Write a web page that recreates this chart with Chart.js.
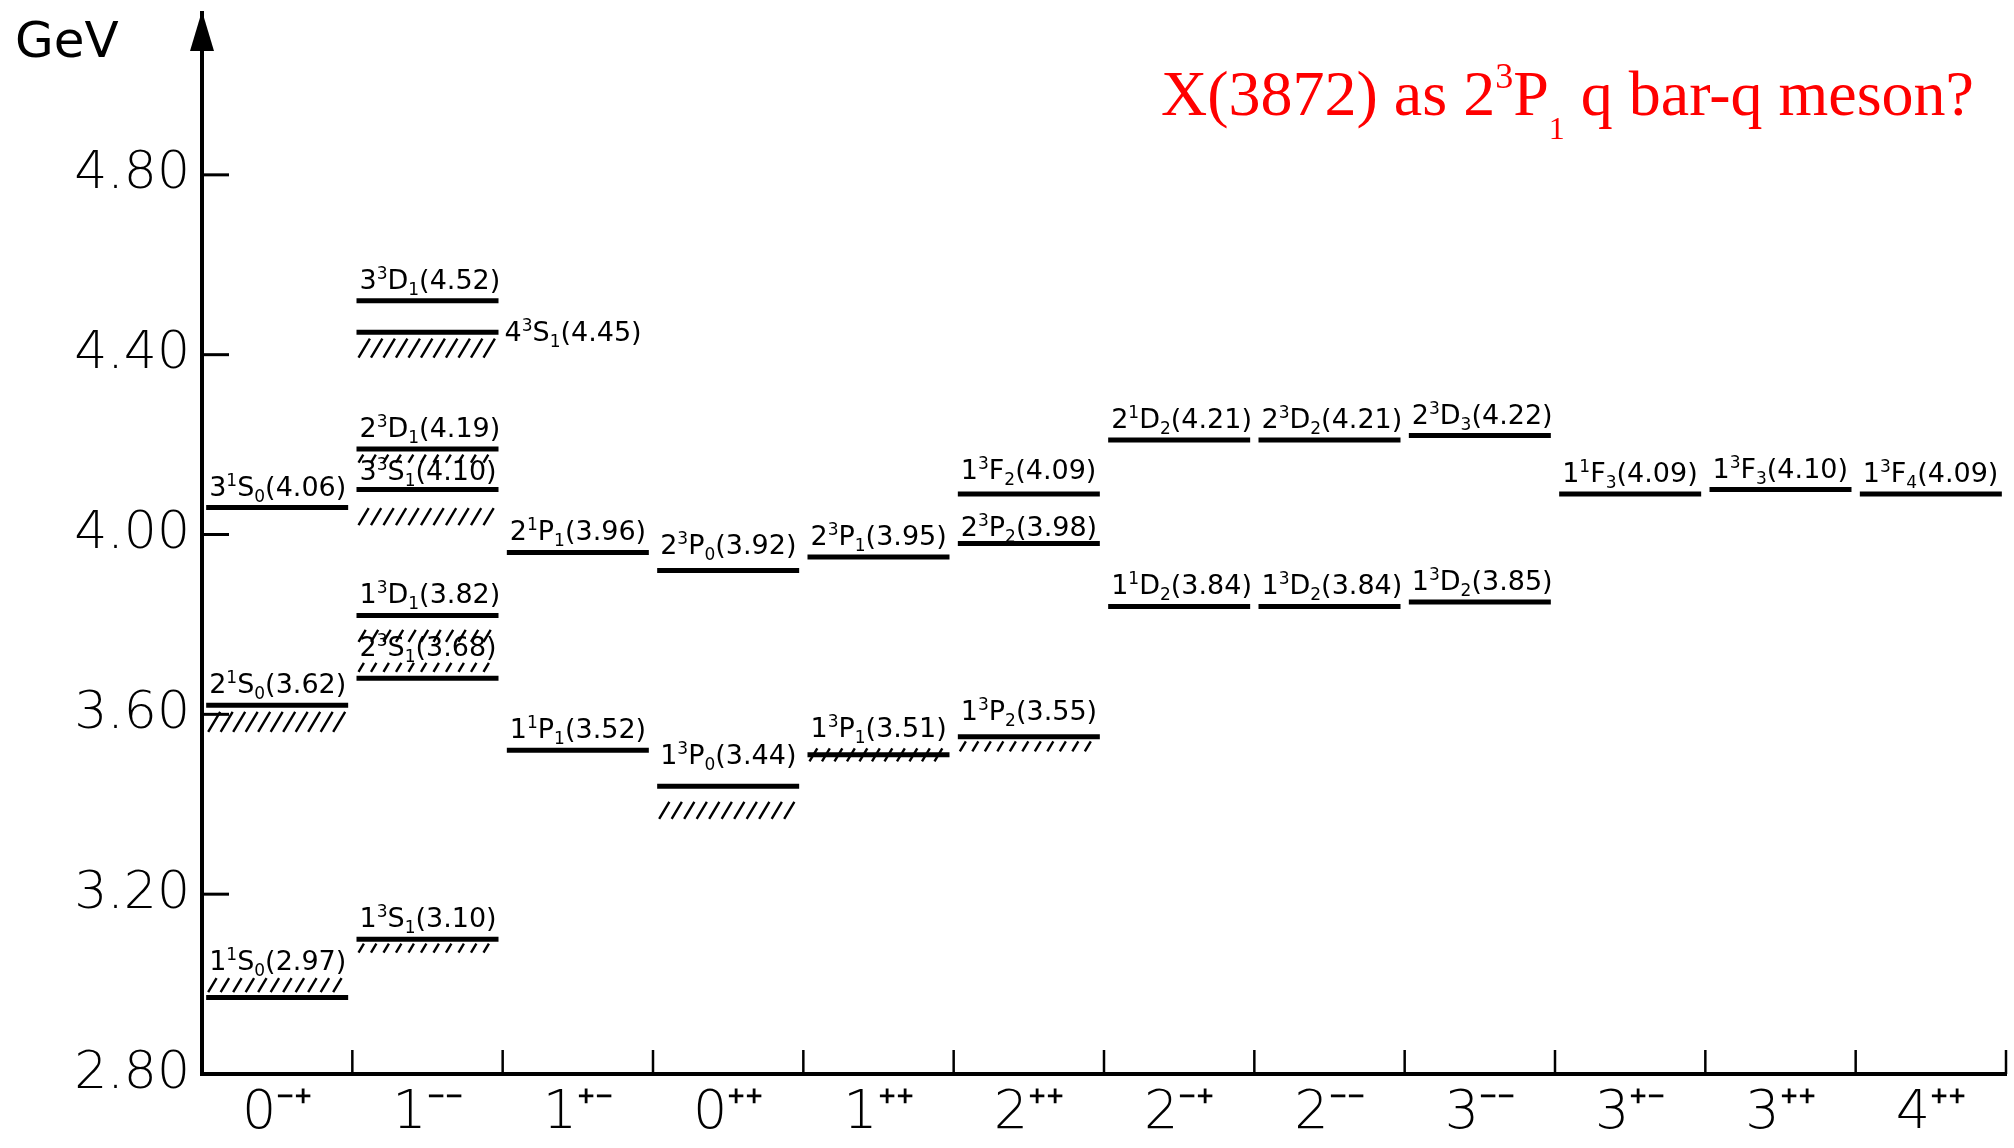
<!DOCTYPE html>
<html><head><meta charset="utf-8">
<script src="https://cdn.jsdelivr.net/npm/chart.js@4.4.1/dist/chart.umd.min.js"></script>
<style>html,body{margin:0;padding:0;background:#fff;}canvas{display:block;}</style>
</head><body>
<canvas id="c" width="2014" height="1148"></canvas>
<script>
// ---- data ----
const categories = ['0⁻⁺','1⁻⁻','1⁺⁻','0⁺⁺','1⁺⁺','2⁺⁺','2⁻⁺','2⁻⁻','3⁻⁻','3⁺⁻','3⁺⁺','4⁺⁺'];
const yTickValues = [2.8, 3.2, 3.6, 4.0, 4.4, 4.8];
const yUnit = 'GeV';
const chartTitle = 'X(3872) as 2^3P_1 q bar-q meson?';
const levelCategory = ['0⁻⁺','0⁻⁺','0⁻⁺',
  '1⁻⁻','1⁻⁻','1⁻⁻','1⁻⁻','1⁻⁻','1⁻⁻','1⁻⁻',
  '1⁺⁻','1⁺⁻','0⁺⁺','0⁺⁺','1⁺⁺','1⁺⁺','2⁺⁺','2⁺⁺','2⁺⁺',
  '2⁻⁺','2⁻⁺','2⁻⁻','2⁻⁻','3⁻⁻','3⁻⁻','3⁺⁻','3⁺⁺','4⁺⁺'];
const levelState = ['1^1S_0','2^1S_0','3^1S_0',
  '1^3S_1','2^3S_1','1^3D_1','3^3S_1','2^3D_1','4^3S_1','3^3D_1',
  '1^1P_1','2^1P_1','1^3P_0','2^3P_0','1^3P_1','2^3P_1','1^3P_2','2^3P_2','1^3F_2',
  '1^1D_2','2^1D_2','1^3D_2','2^3D_2','1^3D_2','2^3D_3','1^1F_3','1^3F_3','1^3F_4'];
const levelMass = [2.97, 3.62, 4.06,
  3.10, 3.68, 3.82, 4.10, 4.19, 4.45, 4.52,
  3.52, 3.96, 3.44, 3.92, 3.51, 3.95, 3.55, 3.98, 4.09,
  3.84, 4.21, 3.84, 4.21, 3.85, 4.22, 4.09, 4.10, 4.09];

// ---- styles (not data) ----
const hatchStyle = {0:['above',3,14],1:['below',4,20],3:['below',2,9],4:['above',4,9],5:['below',12,12],
  6:['below',16,17],7:['below',3,8],8:['below',4,19],12:['below',13,17],14:['cross',0,13],16:['below',2,10]};
const labelLift = {0:28,4:22,6:10,12:22,13:16,14:18,16:17,17:8,18:15};
const labelRightOf = {8:true};
const HALF = 71;
const FAM = '"DejaVu Sans"';

function drawRich(ctx, text, x, y, o) {
  let i = 0, cx = x;
  while (i < text.length) {
    const ch = text[i];
    if (ch === '^' || ch === '_') {
      const s = text[i+1], sup = ch === '^';
      ctx.font = `${o.weight} ${sup ? o.supSize : o.subSize}px ${o.family}`;
      ctx.fillText(s, cx, y + (sup ? -o.supRise : o.subDrop));
      cx += ctx.measureText(s).width + (o.gap || 0);
      i += 2; continue;
    }
    let j = i;
    while (j < text.length && text[j] !== '^' && text[j] !== '_') j++;
    const run = text.slice(i, j);
    ctx.font = `${o.weight} ${o.size}px ${o.family}`;
    ctx.fillText(run, cx, y);
    cx += ctx.measureText(run).width;
    i = j;
  }
  return cx - x;
}

function hatch(ctx, x0, x1, yTop, len) {
  const dx = len * 0.6, step = 12.5;
  ctx.beginPath();
  for (let x = x0; x + dx <= x1 + 1; x += step) {
    ctx.moveTo(x, yTop + len);
    ctx.lineTo(x + dx, yTop);
  }
  ctx.stroke();
}

const decor = {
  id: 'decor',
  afterDatasetsDraw(chart) {
    const ctx = chart.ctx, xs = chart.scales.x, ys = chart.scales.y, a = chart.chartArea;
    const meta = chart.getDatasetMeta(0);
    ctx.save();
    ctx.strokeStyle = '#000'; ctx.fillStyle = '#000';
    // inward y ticks
    ctx.lineWidth = 3;
    yTickValues.forEach(v => {
      const py = ys.getPixelForValue(v);
      ctx.beginPath(); ctx.moveTo(a.left, py); ctx.lineTo(a.left + 27, py); ctx.stroke();
    });
    // category boundary ticks
    ctx.lineWidth = 2.5;
    for (let i = 1; i <= categories.length; i++) {
      const px = xs.getPixelForValue(i - 0.5);
      ctx.beginPath(); ctx.moveTo(px, a.bottom); ctx.lineTo(px, a.bottom - 24); ctx.stroke();
    }
    // arrow head
    ctx.beginPath();
    ctx.moveTo(a.left, a.top - 2); ctx.lineTo(a.left - 12, a.top + 38); ctx.lineTo(a.left + 12, a.top + 38); ctx.closePath(); ctx.fill();
    // hatches and labels
    ctx.lineWidth = 2.4;
    meta.data.forEach((p, k) => {
      const x0 = p.x - HALF, x1 = p.x + HALF, y = p.y;
      const h = hatchStyle[k];
      if (h) {
        let yTop;
        if (h[0] === 'below') yTop = y + 2.5 + h[1];
        else if (h[0] === 'above') yTop = y - 2.5 - h[1] - h[2];
        else yTop = y - h[2] / 2;
        hatch(ctx, x0 + 2, x1, yTop, h[2]);
      }
      const txt = levelState[k] + '(' + levelMass[k].toFixed(2) + ')';
      const o = {family: FAM, weight: 'normal', size: 27, supSize: 17, supRise: 10, subSize: 17, subDrop: 6};
      ctx.textBaseline = 'alphabetic'; ctx.textAlign = 'left';
      if (labelRightOf[k]) drawRich(ctx, txt, x1 + 6, y + 9, o);
      else drawRich(ctx, txt, x0 + 3, y - (labelLift[k] || 12), o);
    });
    // unit label
    ctx.font = `normal 50px ${FAM}`;
    ctx.fillText(yUnit, 15, 57);
    // red title
    ctx.fillStyle = '#ff0000';
    drawRich(ctx, chartTitle, 1161, 115, {family: '"Liberation Serif"', weight: 'normal', size: 64, supSize: 36, supRise: 27, subSize: 32, subDrop: 24});
    ctx.restore();
  }
};

const points = levelMass.map((m, k) => ({x: levelCategory[k], y: m}));

new Chart(document.getElementById('c'), {
  type: 'line',
  data: {
    labels: categories,
    datasets: [{
      data: points,
      showLine: false,
      pointStyle: 'line',
      pointRadius: HALF,
      pointHoverRadius: HALF,
      pointBorderWidth: 5,
      pointHoverBorderWidth: 5,
      pointBorderColor: '#000',
      pointBackgroundColor: '#000',
      clip: false
    }]
  },
  options: {
    responsive: false,
    animation: false,
    events: [],
    layout: {autoPadding: false, padding: {top: 13, right: 8, left: 0, bottom: 0}},
    plugins: {legend: {display: false}, tooltip: {enabled: false}, title: {display: false}},
    scales: {
      x: {
        type: 'category',
        offset: true,
        grid: {display: false, drawTicks: false},
        border: {display: true, width: 4, color: '#000'},
        ticks: {color: '#000', padding: 8, maxRotation: 0, autoSkip: false, font: {family: 'DejaVu Sans', size: 54, weight: '200'}},
        afterFit: s => { s.height = 74; s.paddingLeft = 0; s.paddingRight = 0; }
      },
      y: {
        type: 'linear',
        min: 2.8,
        max: 5.16,
        grid: {display: false, drawTicks: false},
        border: {display: true, width: 4, color: '#000'},
        afterBuildTicks: s => { s.ticks = yTickValues.map(v => ({value: v})); },
        ticks: {color: '#000', padding: 12, callback: v => Number(v).toFixed(2), font: {family: 'DejaVu Sans', size: 52, weight: '200'}},
        afterFit: s => { s.width = 202; s.paddingTop = 0; s.paddingBottom = 0; }
      }
    }
  },
  plugins: [decor]
});
</script>
</body></html>
